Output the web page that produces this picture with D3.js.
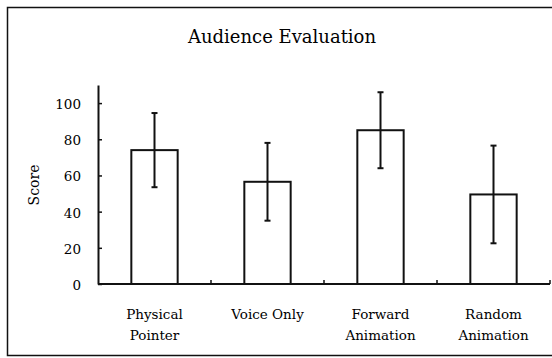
<!DOCTYPE html>
<html>
<head>
<meta charset="utf-8">
<script src="https://cdn.jsdelivr.net/npm/d3@7"></script>
<style>
  body { margin: 0; background: white; overflow: hidden; }
  text { font-family: "DejaVu Serif", "Liberation Serif", serif; fill: black; }
</style>
</head>
<body>
<div id="chart"></div>
<script>
var categories = ["Physical Pointer", "Voice Only", "Forward Animation", "Random Animation"]
var labelLines = [["Physical", "Pointer"], ["Voice Only"], ["Forward", "Animation"], ["Random", "Animation"]]
var means = [74, 56.5, 85, 49.5]
var errors = [20.5, 21.5, 21, 27]
var yTicks = [0, 20, 40, 60, 80, 100]

var w = 552, h = 358
var margin = {top: 85, left: 98, right: 2, bottom: 74}
var innerWidth = w - margin.left - margin.right
var innerHeight = h - margin.top - margin.bottom
var fontFam = "'DejaVu Serif', 'Liberation Serif', serif"

var svg = d3.select("#chart").append("svg")
    .attr("width", w)
    .attr("height", h)
    .style("display", "block")

svg.append("rect")
    .attr("x", 0).attr("y", 0)
    .attr("width", w).attr("height", h)
    .attr("fill", "white")

// outer frame: top, left and bottom edges (right side runs off the picture)
svg.append("path")
    .attr("d", `M${w},7.5 H7.5 V355.5 H${w}`)
    .attr("fill", "none")
    .attr("stroke", "#111")
    .attr("stroke-width", 1.5)

svg.append("text")
    .attr("x", 282)
    .attr("y", 43)
    .attr("text-anchor", "middle")
    .style("font-family", fontFam)
    .style("font-size", "18px")
    .text("Audience Evaluation")

var xScale = d3.scaleBand()
    .domain(categories)
    .range([0, innerWidth])
var barWidth = xScale.bandwidth() * 0.41

var yScale = d3.scaleLinear()
    .domain([0, 110])
    .range([innerHeight, 0])

var plot = svg.append("g")
    .attr("transform", `translate(${margin.left}, ${margin.top})`)

// bars
plot.selectAll("rect.bar")
    .data(means)
  .enter().append("rect")
    .attr("class", "bar")
    .attr("x", (d, i) => xScale(categories[i]) + xScale.bandwidth() / 2 - barWidth / 2)
    .attr("y", d => yScale(d))
    .attr("width", barWidth)
    .attr("height", d => innerHeight - yScale(d))
    .attr("fill", "white")
    .attr("stroke", "#111")
    .attr("stroke-width", 2)

// error bars
var err = plot.selectAll("g.err")
    .data(means)
  .enter().append("g")
    .attr("class", "err")
    .attr("transform", (d, i) => `translate(${xScale(categories[i]) + xScale.bandwidth() / 2}, 0)`)
err.append("line")
    .attr("y1", (d, i) => yScale(d + errors[i]))
    .attr("y2", (d, i) => yScale(d - errors[i]))
    .attr("stroke", "#111").attr("stroke-width", 2)
err.append("line")
    .attr("x1", -3).attr("x2", 3)
    .attr("y1", (d, i) => yScale(d + errors[i]))
    .attr("y2", (d, i) => yScale(d + errors[i]))
    .attr("stroke", "#111").attr("stroke-width", 2)
err.append("line")
    .attr("x1", -3).attr("x2", 3)
    .attr("y1", (d, i) => yScale(d - errors[i]))
    .attr("y2", (d, i) => yScale(d - errors[i]))
    .attr("stroke", "#111").attr("stroke-width", 2)

// y axis, ticks pointing inward
var yAxis = d3.axisLeft(yScale)
    .tickValues(yTicks)
    .tickSize(-4)
    .tickSizeOuter(0)
    .tickPadding(17)
var gy = plot.append("g").call(yAxis)
gy.select(".domain").attr("stroke", "#111").attr("stroke-width", 2)
gy.selectAll(".tick line").attr("stroke", "#111").attr("stroke-width", 1.5)
gy.selectAll(".tick text")
    .style("font-size", "13.5px")
    .style("font-family", fontFam)
    .attr("dy", "0.4em")

// x axis baseline and separators between categories
plot.append("line")
    .attr("x1", 0).attr("x2", innerWidth)
    .attr("y1", innerHeight).attr("y2", innerHeight)
    .attr("stroke", "#111").attr("stroke-width", 2)
plot.selectAll("line.sep")
    .data(categories)
  .enter().append("line")
    .attr("class", "sep")
    .attr("x1", d => xScale(d) + xScale.bandwidth())
    .attr("x2", d => xScale(d) + xScale.bandwidth())
    .attr("y1", innerHeight).attr("y2", innerHeight - 4)
    .attr("stroke", "#111").attr("stroke-width", 1.5)

// category labels, one text per line
var lab = plot.selectAll("g.cat")
    .data(categories)
  .enter().append("g")
    .attr("class", "cat")
    .attr("transform", d => `translate(${xScale(d) + xScale.bandwidth() / 2}, ${innerHeight + 35})`)
lab.selectAll("text")
    .data((d, i) => labelLines[i])
  .enter().append("text")
    .attr("x", 0)
    .attr("y", (d, j) => j * 21)
    .attr("text-anchor", "middle")
    .style("font-family", fontFam)
    .style("font-size", "13.5px")
    .text(d => d)

svg.append("text")
    .attr("transform", "translate(39, 185) rotate(-90)")
    .attr("text-anchor", "middle")
    .style("font-family", fontFam)
    .style("font-size", "14px")
    .text("Score")
</script>
</body>
</html>
